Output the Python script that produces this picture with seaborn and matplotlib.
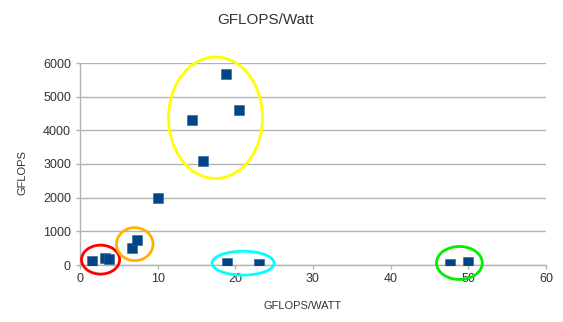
import matplotlib
matplotlib.use("Agg")
import matplotlib.pyplot as plt
from matplotlib.patches import Ellipse
import seaborn as sns
import pandas as pd

# Data
gflops_per_watt = [1.6, 3.2, 3.7, 6.7, 7.4, 10.0, 14.4, 15.9, 18.8, 20.5, 18.9, 23.1, 47.7, 50.0]
gflops = [110, 210, 180, 510, 730, 2000, 4310, 3090, 5660, 4590, 70, 40, 20, 100]
group = ["red", "red", "red", "orange", "orange", None, "yellow", "yellow", "yellow", "yellow",
         "cyan", "cyan", "green", "green"]

x_ticks = [0, 10, 20, 30, 40, 50, 60]
y_ticks = [0, 1000, 2000, 3000, 4000, 5000, 6000]

df = pd.DataFrame({"GFLOPS/WATT": gflops_per_watt, "GFLOPS": gflops, "group": group})

sns.set_theme(style="white")
plt.rcParams["font.family"] = ["Liberation Sans", "DejaVu Sans"]

W, H = 563, 322
fig = plt.figure(figsize=(W / 100, H / 100), dpi=100)
ax = fig.add_axes([80 / W, 57 / H, 466 / W, 202 / H])

sns.scatterplot(data=df, x="GFLOPS/WATT", y="GFLOPS", marker="s", s=48,
                color="#004586", edgecolor="#2a5f96", linewidth=0.4, ax=ax, zorder=3)

ax.set_xlim(0, 60)
ax.set_ylim(0, 6000)
ax.set_xticks(x_ticks)
ax.set_yticks(y_ticks)
ax.set_xticklabels([str(v) for v in x_ticks], fontsize=9, color="#333333")
ax.set_yticklabels([str(v) for v in y_ticks], fontsize=9, color="#333333")
ax.yaxis.grid(True, color="#b3b3b3", linewidth=1)
ax.xaxis.grid(False)
for s in ["top", "right"]:
    ax.spines[s].set_visible(False)
for s in ["left", "bottom"]:
    ax.spines[s].set_color("#b3b3b3")
    ax.spines[s].set_linewidth(1)
ax.tick_params(axis="x", bottom=True, length=3, color="#b3b3b3", width=1, pad=3)
ax.tick_params(axis="y", left=True, length=3, color="#b3b3b3", width=1, pad=3.5)
ax.set_xlabel("")
ax.set_ylabel("")

fig.text(266 / W, 1 - 20 / H, "GFLOPS/Watt", ha="center", va="center", fontsize=11, color="#333333")
fig.text(303 / W, 1 - 306 / H, "GFLOPS/WATT", ha="center", va="center", fontsize=8, color="#333333")
fig.text(22 / W, 1 - 173 / H, "GFLOPS", ha="center", va="center", rotation=90, fontsize=8, color="#333333")

# Hand-drawn style rings around groups of points
ring_colors = {"red": "#ff0000", "orange": "#ffb300", "yellow": "#ffff00", "cyan": "#00ffff", "green": "#00ee00"}
ring_pad = {"red": (1.4, 380), "orange": (2.0, 380), "yellow": (3.0, 520), "cyan": (1.9, 340), "green": (1.8, 450)}
for g, col in ring_colors.items():
    sub = df[df["group"] == g]
    x0, x1 = sub["GFLOPS/WATT"].min(), sub["GFLOPS/WATT"].max()
    y0, y1 = sub["GFLOPS"].min(), sub["GFLOPS"].max()
    px, py = ring_pad[g]
    e = Ellipse(((x0 + x1) / 2, (y0 + y1) / 2), (x1 - x0) + 2 * px, (y1 - y0) + 2 * py,
                fill=False, edgecolor=col, linewidth=2, clip_on=False, zorder=4)
    ax.add_patch(e)

fig.savefig("out.png", dpi=100)
